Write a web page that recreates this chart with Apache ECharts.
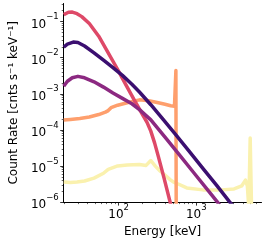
<!DOCTYPE html>
<html><head><meta charset="utf-8">
<script src="https://cdn.jsdelivr.net/npm/echarts@6/dist/echarts.min.js"></script>
<style>html,body{margin:0;padding:0;background:#fff}#c{width:266px;height:243px}</style>
</head><body><div id="c"></div>
<script>
// ---- data ----
const navyE   = [19.6, 21.9, 26.0, 29.9, 36.4, 48.2, 63.8, 84.5, 111.9, 148.2, 185.5, 259.8, 374.3, 524.2, 798.6, 1217, 1855, 2672, 3162];
const navyR   = [0.0197, 0.0238, 0.0270, 0.0262, 0.0210, 0.0136, 0.0085, 0.00533, 0.00323, 0.00184, 0.00112, 0.000497, 0.000195, 8.1e-5, 2.65e-5, 8.6e-6, 2.8e-6, 1.03e-6, 6.7e-7];
const purpleE = [19.6, 21.9, 25.3, 29.9, 36.4, 48.2, 63.8, 84.5, 111.9, 148.2, 185.5, 259.8, 395.9, 603.3, 919.1, 1401, 1855, 2135];
const purpleR = [0.00163, 0.00222, 0.00277, 0.00304, 0.00277, 0.00215, 0.00153, 0.00105, 0.000746, 0.000529, 0.000364, 0.000189, 6.34e-5, 2.06e-5, 6.71e-6, 2.18e-6, 1.03e-6, 7.1e-7];
const crimsonE = [19.6, 22.6, 25.3, 29.1, 33.5, 41.9, 55.4, 73.4, 97.2, 111.9, 128.8, 161.2, 185.5, 207.6, 232.2, 259.8, 290.6, 325.2, 384.9, 455.6, 495.6];
const crimsonR = [0.155, 0.181, 0.183, 0.165, 0.137, 0.0883, 0.0392, 0.0136, 0.0047, 0.00268, 0.00153, 0.000638, 0.000375, 0.000243, 0.000162, 9.22e-5, 4.36e-5, 1.82e-5, 4.61e-6, 1.10e-6, 5.5e-7];
const orangeE = [19.6, 23.9, 31.6, 41.9, 55.4, 67.5, 73.4, 79.9, 97.2, 128.8, 185.5, 245.6, 325.2, 395.9, 468.5, 524.2, 546.7, 554.4];
const orangeR = [1.87e-4, 1.95e-4, 2.08e-4, 2.28e-4, 2.66e-4, 3.11e-4, 3.42e-4, 4.12e-4, 4.82e-4, 5.63e-4, 6.79e-4, 6.38e-4, 5.63e-4, 5.13e-4, 4.67e-4, 4.53e-4, 4.42e-3, 1e-8];
const yellowE = [19.6, 23.9, 29.1, 36.4, 48.2, 63.8, 73.4, 77.7, 97.2, 128.8, 185.5, 225.8, 259.8, 298.9, 344.0, 395.9, 468.5, 509.7, 539.1, 586.6, 755.1, 1217, 2135, 3073, 3848, 4306, 4555, 4752, 4954, 5167];
const yellowR = [3.59e-6, 3.48e-6, 3.59e-6, 3.83e-6, 4.61e-6, 6.30e-6, 8.09e-6, 9.17e-6, 1.006e-5, 1.071e-5, 1.105e-5, 1.038e-5, 1.418e-5, 9.75e-6, 7.14e-6, 5.56e-6, 4.07e-6, 3.59e-6, 4.07e-6, 3.17e-6, 2.47e-6, 2.18e-6, 2.18e-6, 2.32e-6, 2.80e-6, 4.07e-6, 2.80e-6, 7.1e-7, 5.96e-5, 5.9e-7];

const xLabelTicks = [100, 1000];
const yLabelTicks = [1e-6, 1e-5, 1e-4, 1e-3, 1e-2, 1e-1];
const xMinorTicks = [20,30,40,50,60,70,80,90,200,300,400,500,600,700,800,900,2000,3000,4000,5000,6000];
const yMinorTicks = [];
for (let k = -6; k <= -1; k++) for (let m = 2; m <= 9; m++) { const v = m * Math.pow(10, k); if (v < 0.32) yMinorTicks.push(v); }

const xMin = 19.6, xMax = 6930, yMin = 1e-6, yMax = 0.3162;
const colors = { navy: '#3b0f70', purple: '#8c2981', crimson: '#de4968', orange: '#fe9f6d', yellow: '#faf1ae' };

function zip(a, b) { return a.map((v, i) => [v, b[i]]); }
const FONT = 'DejaVu Sans';
function powLabel(v) {
  const e = Math.round(Math.log10(v));
  const s = (e < 0 ? '\u2212' + (-e) : '' + e);
  return '{b|10}{s|' + s + '}';
}
const rich = {
  b: { fontSize: 12, fontFamily: FONT, color: '#000', lineHeight: 18, verticalAlign: 'bottom' },
  s: { fontSize: 8.5, fontFamily: FONT, color: '#000', lineHeight: 8.5, verticalAlign: 'top' }
};

const chart = echarts.init(document.getElementById('c'), null, { renderer: 'canvas' });
function line(name, E, R, color) {
  return { name, type: 'line', xAxisIndex: 0, yAxisIndex: 0, data: zip(E, R), showSymbol: false, symbol: 'none',
    lineStyle: { color, width: 3.5, join: 'round', cap: 'butt' }, clip: true, silent: true };
}
chart.setOption({
  animation: false,
  backgroundColor: '#fff',
  grid: { left: 53, right: 4.5, top: 3.5, bottom: 36.5, containLabel: false },
  xAxis: [
    { type: 'log', min: xMin, max: xMax, position: 'bottom',
      axisLine: { show: true, lineStyle: { color: '#000', width: 1 } },
      axisTick: { show: true, length: 3.5, customValues: xLabelTicks, lineStyle: { color: '#000', width: 0.8 } },
      axisLabel: { customValues: xLabelTicks, formatter: powLabel, rich: rich, margin: 1 },
      splitLine: { show: false },
      name: 'Energy [keV]', nameLocation: 'middle', nameGap: 19,
      nameTextStyle: { fontFamily: FONT, fontSize: 12, color: '#000', verticalAlign: 'top' } },
    { type: 'log', min: xMin, max: xMax, position: 'bottom',
      axisLine: { show: false },
      axisTick: { show: true, length: 2, customValues: xMinorTicks, lineStyle: { color: '#000', width: 0.6 } },
      axisLabel: { show: false }, splitLine: { show: false } }
  ],
  yAxis: [
    { type: 'log', min: yMin, max: yMax, position: 'left',
      axisLine: { show: true, lineStyle: { color: '#000', width: 1 } },
      axisTick: { show: true, length: 3.5, customValues: yLabelTicks, lineStyle: { color: '#000', width: 0.8 } },
      axisLabel: { customValues: yLabelTicks, formatter: powLabel, rich: rich, margin: 5 },
      splitLine: { show: false },
      name: 'Count Rate [cnts s\u207B\u00B9 keV\u207B\u00B9]', nameLocation: 'middle', nameGap: 37, nameRotate: 90,
      nameTextStyle: { fontFamily: FONT, fontSize: 12, color: '#000' } },
    { type: 'log', min: yMin, max: yMax, position: 'left',
      axisLine: { show: false },
      axisTick: { show: true, length: 2, customValues: yMinorTicks, lineStyle: { color: '#000', width: 0.6 } },
      axisLabel: { show: false }, splitLine: { show: false } }
  ],
  series: [
    line('yellow', yellowE, yellowR, colors.yellow),
    line('orange', orangeE, orangeR, colors.orange),
    line('crimson', crimsonE, crimsonR, colors.crimson),
    line('purple', purpleE, purpleR, colors.purple),
    line('navy', navyE, navyR, colors.navy)
  ]
});
</script>
</body></html>
